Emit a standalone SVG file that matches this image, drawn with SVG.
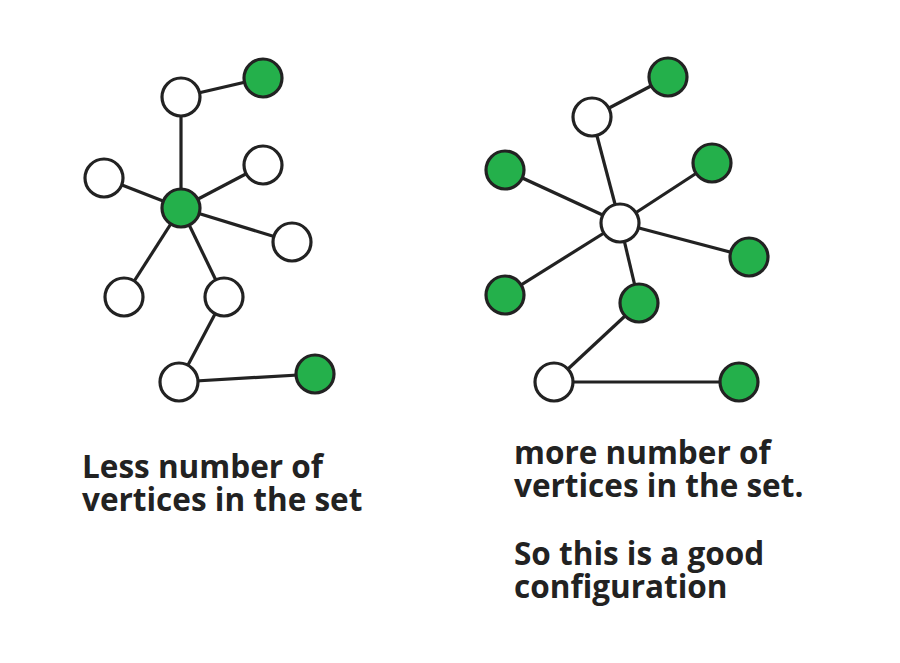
<svg xmlns="http://www.w3.org/2000/svg" width="900" height="663" viewBox="0 0 900 663">
<style>
.e{stroke:#222;stroke-width:3.2;fill:none}
.n{stroke:#222;stroke-width:3.2}
.w{fill:#fff}
.g{fill:#24b04b}
.t{font-family:"Open Sans",sans-serif;font-weight:700;font-size:31.5px;fill:#222}
</style>
<rect width="900" height="663" fill="#fff"/>
<g id="connectors">
<line class="e" x1="181" y1="97" x2="263" y2="78"/>
<line class="e" x1="181" y1="97" x2="181" y2="208"/>
<line class="e" x1="181" y1="208" x2="104" y2="178"/>
<line class="e" x1="181" y1="208" x2="263" y2="165"/>
<line class="e" x1="181" y1="208" x2="292" y2="242"/>
<line class="e" x1="181" y1="208" x2="124" y2="297"/>
<line class="e" x1="181" y1="208" x2="224" y2="297"/>
<line class="e" x1="224" y1="297" x2="179" y2="382"/>
<line class="e" x1="179" y1="382" x2="315" y2="374"/>
<line class="e" x1="592" y1="117" x2="668" y2="77"/>
<line class="e" x1="592" y1="117" x2="620" y2="223"/>
<line class="e" x1="620" y1="223" x2="505" y2="170"/>
<line class="e" x1="620" y1="223" x2="712" y2="163"/>
<line class="e" x1="620" y1="223" x2="749" y2="257"/>
<line class="e" x1="620" y1="223" x2="505" y2="295"/>
<line class="e" x1="620" y1="223" x2="639" y2="303"/>
<line class="e" x1="639" y1="303" x2="554" y2="382"/>
<line class="e" x1="554" y1="382" x2="739" y2="382"/>
</g>
<g id="left-graph">
<g id="L1"><circle class="n w" cx="181" cy="97" r="19"/></g>
<g id="L2"><circle class="n g" cx="263" cy="78" r="19"/></g>
<g id="L3"><circle class="n g" cx="181" cy="208" r="19"/></g>
<g id="L4"><circle class="n w" cx="104" cy="178" r="19"/></g>
<g id="L5"><circle class="n w" cx="263" cy="165" r="19"/></g>
<g id="L6"><circle class="n w" cx="292" cy="242" r="19"/></g>
<g id="L7"><circle class="n w" cx="124" cy="297" r="19"/></g>
<g id="L8"><circle class="n w" cx="224" cy="297" r="19"/></g>
<g id="L9"><circle class="n w" cx="179" cy="382" r="19"/></g>
<g id="L10"><circle class="n g" cx="315" cy="374" r="19"/></g>
</g>
<g id="right-graph">
<g id="R1"><circle class="n w" cx="592" cy="117" r="19"/></g>
<g id="R2"><circle class="n g" cx="668" cy="77" r="19"/></g>
<g id="R3"><circle class="n w" cx="620" cy="223" r="19"/></g>
<g id="R4"><circle class="n g" cx="505" cy="170" r="19"/></g>
<g id="R5"><circle class="n g" cx="712" cy="163" r="19"/></g>
<g id="R6"><circle class="n g" cx="749" cy="257" r="19"/></g>
<g id="R7"><circle class="n g" cx="505" cy="295" r="19"/></g>
<g id="R8"><circle class="n g" cx="639" cy="303" r="19"/></g>
<g id="R9"><circle class="n w" cx="554" cy="382" r="19"/></g>
<g id="R10"><circle class="n g" cx="739" cy="382" r="19"/></g>
</g>
<g id="labels">
<text class="t" x="82" y="478">Less number of</text>
<text class="t" x="82" y="511">vertices in the set</text>
<text class="t" x="514" y="464">more number of</text>
<text class="t" x="514" y="497">vertices in the set.</text>
<text class="t" x="514" y="565">So this is a good</text>
<text class="t" x="514" y="598">configuration</text>
</g>
</svg>
